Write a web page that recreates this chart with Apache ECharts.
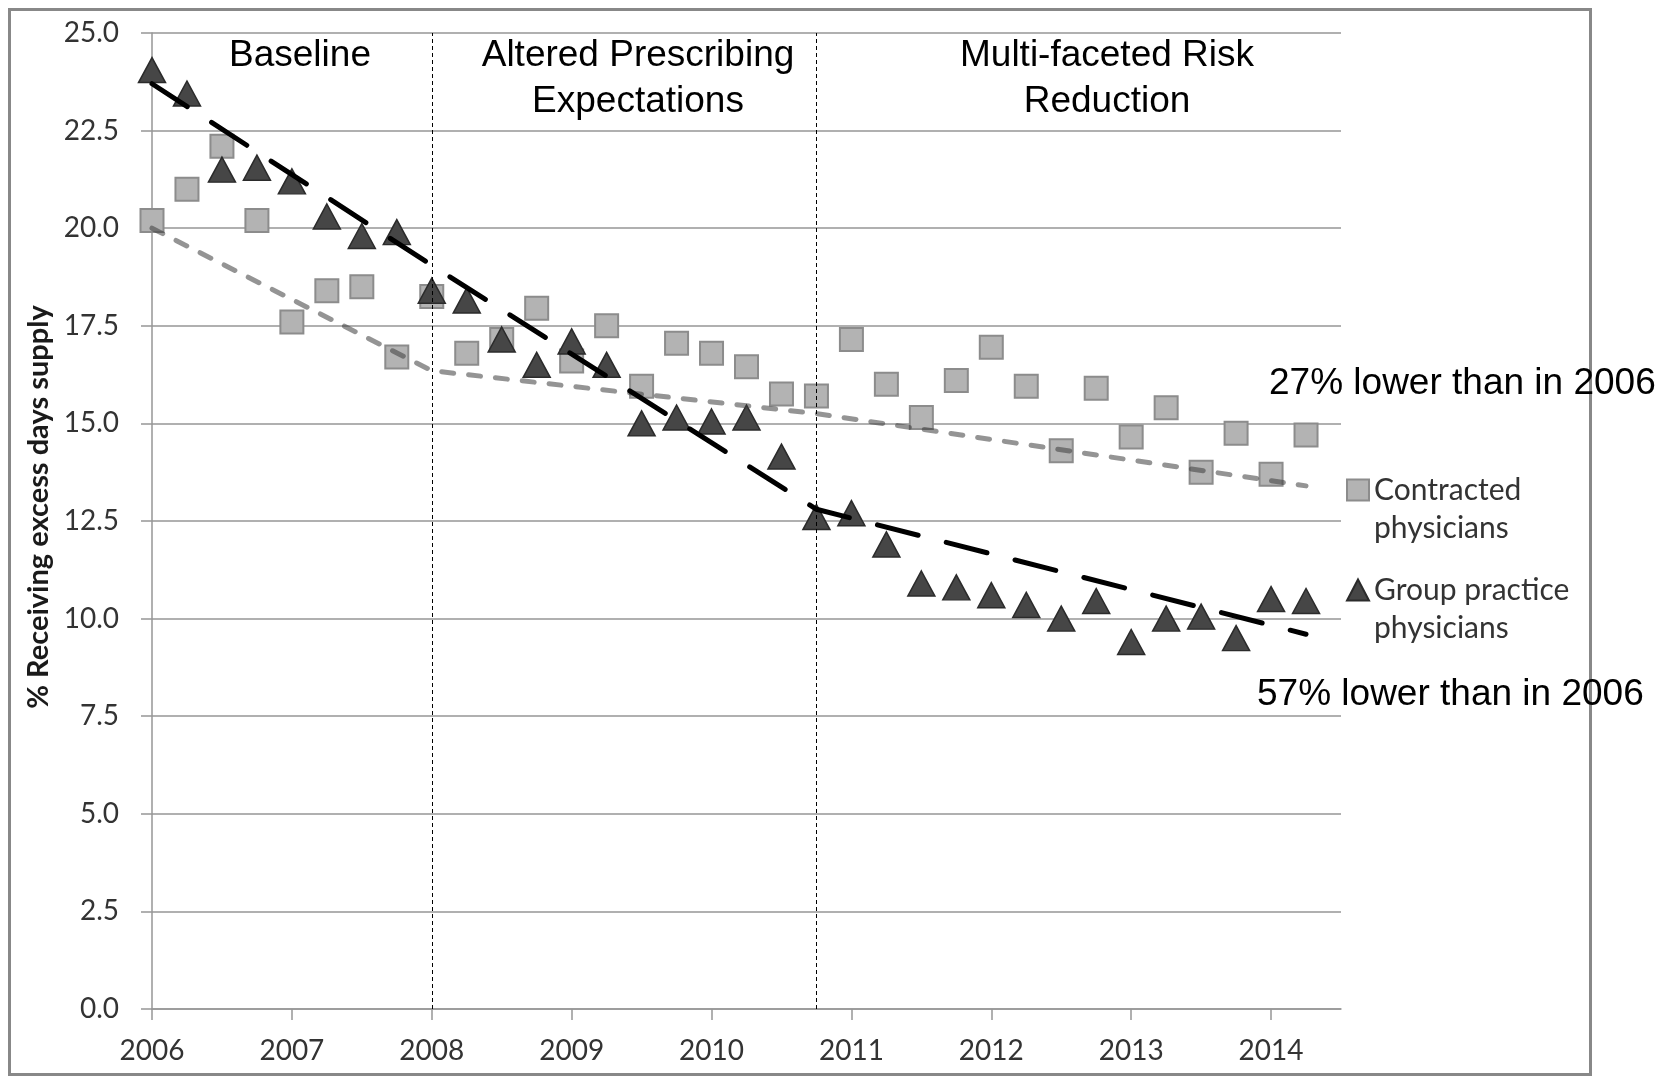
<!DOCTYPE html>
<html>
<head>
<meta charset="utf-8">
<title>Excess days supply by physician group</title>
<script src="https://cdn.jsdelivr.net/npm/echarts@6/dist/echarts.min.js"></script>
<style>
  html, body { margin: 0; padding: 0; background: #fff; }
  #chart { width: 1664px; height: 1081px; }
</style>
</head>
<body>
<div id="chart"></div>
<script>
// quarterly observations, 2006 Q1 .. 2014 Q2
const quarters = [
  2006, 2006.25, 2006.5, 2006.75, 2007, 2007.25, 2007.5, 2007.75,
  2008, 2008.25, 2008.5, 2008.75, 2009, 2009.25, 2009.5, 2009.75,
  2010, 2010.25, 2010.5, 2010.75, 2011, 2011.25, 2011.5, 2011.75,
  2012, 2012.25, 2012.5, 2012.75, 2013, 2013.25, 2013.5, 2013.75,
  2014, 2014.25
];
const contracted = [
  20.2, 21.0, 22.1, 20.2, 17.6, 18.4, 18.5, 16.7,
  18.25, 16.8, 17.15, 17.95, 16.6, 17.5, 15.95, 17.05,
  16.8, 16.45, 15.75, 15.7, 17.15, 16.0, 15.15, 16.1,
  16.95, 15.95, 14.3, 15.9, 14.65, 15.4, 13.75, 14.75,
  13.7, 14.7
];
const groupPractice = [
  24.05, 23.45, 21.5, 21.55, 21.2, 20.3, 19.8, 19.9,
  18.4, 18.15, 17.15, 16.5, 17.1, 16.5, 15.0, 15.15,
  15.05, 15.15, 14.15, 12.6, 12.7, 11.9, 10.9, 10.8,
  10.6, 10.35, 10.0, 10.45, 9.4, 10.0, 10.05, 9.5,
  10.5, 10.45
];

// segmented regression lines: start, two break points, end
const trendYears = [2006, 2008, 2010.75, 2014.25];
const contractedTrend = [20.0, 16.35, 15.25, 13.4];
const groupTrend = [23.7, 19.05, 12.8, 9.6];

// phase boundaries (vertical dotted lines)
const phaseBreaks = [2008, 2010.75];
const yearTicks = [2006, 2007, 2008, 2009, 2010, 2011, 2012, 2013, 2014];
const seriesNames = ['Contracted physicians', 'Group practice physicians'];

const chart = echarts.init(document.getElementById('chart'));

const calibriLike = 'Lato, "Noto Sans", sans-serif';
const arialFont = '"Liberation Sans", Arial, sans-serif';
const gridGray = '#969696';

const toPairs = (xs, ys) => xs.map((x, i) => [x, ys[i]]);

function noteText(text, x, y, align) {
  return {
    type: 'text',
    x: x,
    y: y,
    z: 100,
    silent: true,
    style: {
      text: text,
      font: '37px ' + arialFont,
      fill: '#000',
      align: align,
      verticalAlign: 'middle',
      lineHeight: 46
    }
  };
}

const option = {
  animation: false,
  backgroundColor: '#fff',
  grid: { left: 152, right: 323, top: 33, bottom: 72, outerBoundsMode: 'none' },
  xAxis: {
    type: 'value',
    min: 2006,
    max: 2014.5,
    interval: 1,
    axisLine: { show: true, lineStyle: { color: gridGray, width: 1.5 } },
    axisTick: { show: true, length: 11, customValues: yearTicks, lineStyle: { color: gridGray, width: 1.5 } },
    axisLabel: {
      customValues: yearTicks,
      margin: 28,
      color: '#333',
      fontFamily: calibriLike,
      fontSize: 28,
      formatter: v => String(v)
    },
    splitLine: { show: false }
  },
  yAxis: {
    type: 'value',
    min: 0,
    max: 25,
    interval: 2.5,
    name: '% Receiving excess days supply',
    nameLocation: 'middle',
    nameRotate: 90,
    nameGap: 96,
    // left padding nudges the title a little above the plot centre, as in the source
    nameTextStyle: { fontFamily: calibriLike, fontWeight: 'bold', fontSize: 29, color: '#1a1a1a', padding: [0, 0, 0, 28] },
    axisLine: { show: true, lineStyle: { color: gridGray, width: 1.5 } },
    axisTick: { show: true, length: 11, lineStyle: { color: gridGray, width: 1.5 } },
    axisLabel: {
      margin: 33,
      color: '#333',
      fontFamily: calibriLike,
      fontSize: 28,
      formatter: v => v.toFixed(1)
    },
    splitLine: { show: true, lineStyle: { color: gridGray, width: 1.5 } }
  },
  legend: {
    data: [
      { name: seriesNames[0], icon: 'rect' },
      { name: seriesNames[1], icon: 'triangle' }
    ],
    orient: 'vertical',
    left: 1346,
    top: 433,
    padding: 0,
    itemGap: -14,
    itemWidth: 22,
    itemHeight: 21,
    selectedMode: false,
    // empty first line keeps the icon level with the first text line
    formatter: name => '\n' + name.replace(' physicians', '\nphysicians'),
    textStyle: {
      fontFamily: calibriLike,
      fontSize: 30,
      color: '#333',
      lineHeight: 38
    }
  },
  graphic: [
    {
      type: 'rect',
      z: 100,
      silent: true,
      shape: { x: 9.5, y: 9.5, width: 1581, height: 1065 },
      style: { fill: 'none', stroke: '#888', lineWidth: 3 }
    },
    noteText('Baseline', 300, 56, 'center'),
    noteText('Altered Prescribing\nExpectations', 638, 79, 'center'),
    noteText('Multi-faceted Risk\nReduction', 1107, 79, 'center'),
    noteText('27% lower than in 2006', 1269, 384, 'left'),
    noteText('57% lower than in 2006', 1257, 695, 'left')
  ],
  series: [
    {
      name: seriesNames[0],
      type: 'scatter',
      z: 2,
      silent: true,
      data: toPairs(quarters, contracted),
      symbol: 'rect',
      symbolSize: 23,
      itemStyle: { color: '#b3b3b3', borderColor: '#8c8c8c', borderWidth: 2, opacity: 1 }
    },
    {
      name: seriesNames[1],
      type: 'scatter',
      z: 3,
      silent: true,
      data: toPairs(quarters, groupPractice),
      symbol: 'triangle',
      symbolSize: [27, 25],
      itemStyle: { color: '#464646', borderColor: '#2b2b2b', borderWidth: 1.5, opacity: 1 }
    },
    {
      name: 'Contracted trend',
      type: 'line',
      z: 4,
      silent: true,
      symbol: 'none',
      data: toPairs(trendYears, contractedTrend),
      lineStyle: { color: 'rgba(60,60,60,0.55)', width: 5, type: [12, 15], cap: 'round' }
    },
    {
      name: 'Group practice trend',
      type: 'line',
      z: 5,
      silent: true,
      symbol: 'none',
      data: toPairs(trendYears, groupTrend),
      lineStyle: { color: '#000', width: 5, type: [42, 29], cap: 'round' },
      markLine: {
        silent: true,
        symbol: 'none',
        label: { show: false },
        lineStyle: { color: '#000', width: 1, type: [4, 3] },
        data: phaseBreaks.map(x => ({ xAxis: x }))
      }
    }
  ]
};

chart.setOption(option);
</script>
</body>
</html>
